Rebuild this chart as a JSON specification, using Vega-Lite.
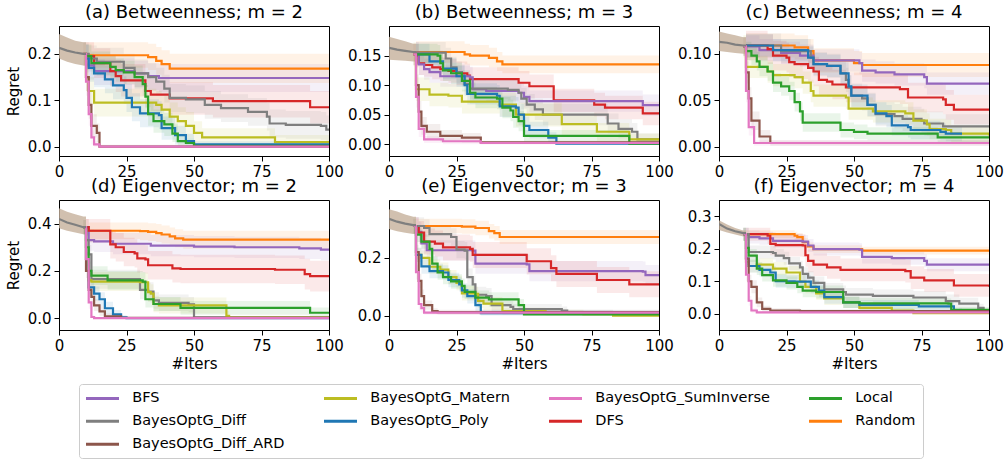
{
"$schema":"https://vega.github.io/schema/vega-lite/v6.json",
"padding":{"left":5,"top":3,"right":0,"bottom":4},
"config":{"font":"DejaVu Sans","view":{"stroke":"black","strokeWidth":1},
"title":{"fontSize":18,"fontWeight":"normal","color":"black","offset":4,"font":"DejaVu Sans"},
"axis":{"labelFont":"DejaVu Sans","labelFontSize":15,"labelColor":"black","titleFont":"DejaVu Sans","titleFontSize":15,"titleFontWeight":"normal","titleColor":"black","domainColor":"black","tickColor":"black","tickSize":5,"grid":false,"labelPadding":3,"labelOverlap":false},
"axisX":{"labelFlush":false,"titlePadding":3},
"axisY":{"titlePadding":6}},
"datasets":{
"a":[
{"s":"init","x":0,"v":0.213,"l":0.19,"h":0.243},{"s":"init","x":3,"v":0.207,"l":0.183,"h":0.235},{"s":"init","x":6,"v":0.203,"l":0.178,"h":0.228},{"s":"init","x":9,"v":0.2,"l":0.175,"h":0.225},{"s":"init","x":10,"v":0.2,"l":0.175,"h":0.225},
{"s":"Random","x":10,"v":0.197,"l":0.17,"h":0.225},{"s":"Random","x":33,"v":0.193,"l":0.165,"h":0.222},{"s":"Random","x":36,"v":0.185,"l":0.155,"h":0.215},{"s":"Random","x":38,"v":0.178,"l":0.148,"h":0.208},{"s":"Random","x":41,"v":0.168,"l":0.137,"h":0.2},{"s":"Random","x":100,"v":0.168,"l":0.137,"h":0.2},
{"s":"BFS","x":10,"v":0.195,"l":0.17,"h":0.22},{"s":"BFS","x":11,"v":0.175,"l":0.145,"h":0.2},{"s":"BFS","x":13,"v":0.163,"l":0.133,"h":0.19},{"s":"BFS","x":28,"v":0.158,"l":0.128,"h":0.185},{"s":"BFS","x":33,"v":0.152,"l":0.122,"h":0.18},{"s":"BFS","x":37,"v":0.148,"l":0.118,"h":0.178},{"s":"BFS","x":100,"v":0.147,"l":0.117,"h":0.177},
{"s":"DFS","x":10,"v":0.195,"l":0.165,"h":0.225},{"s":"DFS","x":13,"v":0.18,"l":0.148,"h":0.212},{"s":"DFS","x":19,"v":0.163,"l":0.13,"h":0.198},{"s":"DFS","x":21,"v":0.152,"l":0.118,"h":0.187},{"s":"DFS","x":23,"v":0.143,"l":0.108,"h":0.178},{"s":"DFS","x":32,"v":0.12,"l":0.085,"h":0.155},{"s":"DFS","x":34,"v":0.112,"l":0.077,"h":0.147},{"s":"DFS","x":41,"v":0.104,"l":0.069,"h":0.139},{"s":"DFS","x":57,"v":0.098,"l":0.063,"h":0.133},{"s":"DFS","x":93,"v":0.085,"l":0.05,"h":0.12},{"s":"DFS","x":100,"v":0.085,"l":0.05,"h":0.12},
{"s":"BayesOptG_Diff","x":10,"v":0.2,"l":0.175,"h":0.225},{"s":"BayesOptG_Diff","x":11,"v":0.19,"l":0.162,"h":0.218},{"s":"BayesOptG_Diff","x":14,"v":0.183,"l":0.153,"h":0.213},{"s":"BayesOptG_Diff","x":24,"v":0.17,"l":0.14,"h":0.2},{"s":"BayesOptG_Diff","x":28,"v":0.158,"l":0.128,"h":0.188},{"s":"BayesOptG_Diff","x":33,"v":0.15,"l":0.12,"h":0.18},{"s":"BayesOptG_Diff","x":36,"v":0.14,"l":0.11,"h":0.17},{"s":"BayesOptG_Diff","x":39,"v":0.125,"l":0.095,"h":0.155},{"s":"BayesOptG_Diff","x":41,"v":0.105,"l":0.075,"h":0.135},{"s":"BayesOptG_Diff","x":47,"v":0.102,"l":0.072,"h":0.132},{"s":"BayesOptG_Diff","x":54,"v":0.09,"l":0.06,"h":0.12},{"s":"BayesOptG_Diff","x":60,"v":0.083,"l":0.053,"h":0.113},{"s":"BayesOptG_Diff","x":70,"v":0.075,"l":0.045,"h":0.105},{"s":"BayesOptG_Diff","x":77,"v":0.065,"l":0.035,"h":0.095},{"s":"BayesOptG_Diff","x":78,"v":0.05,"l":0.02,"h":0.08},{"s":"BayesOptG_Diff","x":84,"v":0.047,"l":0.017,"h":0.077},{"s":"BayesOptG_Diff","x":97,"v":0.045,"l":0.015,"h":0.075},{"s":"BayesOptG_Diff","x":99,"v":0.037,"l":0.01,"h":0.067},{"s":"BayesOptG_Diff","x":100,"v":0.037,"l":0.01,"h":0.067},
{"s":"BayesOptG_Matern","x":9,"v":0.2,"l":0.175,"h":0.225},{"s":"BayesOptG_Matern","x":10,"v":0.15,"l":0.12,"h":0.18},{"s":"BayesOptG_Matern","x":11,"v":0.12,"l":0.09,"h":0.15},{"s":"BayesOptG_Matern","x":13,"v":0.095,"l":0.065,"h":0.125},{"s":"BayesOptG_Matern","x":36,"v":0.09,"l":0.06,"h":0.12},{"s":"BayesOptG_Matern","x":38,"v":0.08,"l":0.05,"h":0.11},{"s":"BayesOptG_Matern","x":41,"v":0.065,"l":0.035,"h":0.095},{"s":"BayesOptG_Matern","x":44,"v":0.055,"l":0.025,"h":0.085},{"s":"BayesOptG_Matern","x":47,"v":0.045,"l":0.018,"h":0.075},{"s":"BayesOptG_Matern","x":50,"v":0.03,"l":0.008,"h":0.055},{"s":"BayesOptG_Matern","x":53,"v":0.02,"l":0.003,"h":0.04},{"s":"BayesOptG_Matern","x":80,"v":0.01,"l":0,"h":0.025},{"s":"BayesOptG_Matern","x":100,"v":0.01,"l":0,"h":0.025},
{"s":"BayesOptG_Poly","x":10,"v":0.19,"l":0.16,"h":0.22},{"s":"BayesOptG_Poly","x":11,"v":0.17,"l":0.14,"h":0.2},{"s":"BayesOptG_Poly","x":13,"v":0.158,"l":0.128,"h":0.188},{"s":"BayesOptG_Poly","x":17,"v":0.145,"l":0.115,"h":0.175},{"s":"BayesOptG_Poly","x":20,"v":0.132,"l":0.102,"h":0.162},{"s":"BayesOptG_Poly","x":24,"v":0.122,"l":0.092,"h":0.152},{"s":"BayesOptG_Poly","x":25,"v":0.105,"l":0.075,"h":0.135},{"s":"BayesOptG_Poly","x":27,"v":0.085,"l":0.055,"h":0.115},{"s":"BayesOptG_Poly","x":30,"v":0.072,"l":0.042,"h":0.102},{"s":"BayesOptG_Poly","x":37,"v":0.068,"l":0.038,"h":0.098},{"s":"BayesOptG_Poly","x":38,"v":0.04,"l":0.015,"h":0.065},{"s":"BayesOptG_Poly","x":43,"v":0.025,"l":0.005,"h":0.045},{"s":"BayesOptG_Poly","x":47,"v":0.012,"l":0,"h":0.028},{"s":"BayesOptG_Poly","x":50,"v":0.005,"l":0,"h":0.012},{"s":"BayesOptG_Poly","x":100,"v":0.004,"l":0,"h":0.01},
{"s":"Local","x":10,"v":0.195,"l":0.17,"h":0.22},{"s":"Local","x":12,"v":0.18,"l":0.155,"h":0.205},{"s":"Local","x":19,"v":0.172,"l":0.147,"h":0.197},{"s":"Local","x":21,"v":0.165,"l":0.14,"h":0.19},{"s":"Local","x":24,"v":0.16,"l":0.135,"h":0.185},{"s":"Local","x":28,"v":0.15,"l":0.125,"h":0.175},{"s":"Local","x":31,"v":0.135,"l":0.11,"h":0.16},{"s":"Local","x":32,"v":0.108,"l":0.083,"h":0.133},{"s":"Local","x":33,"v":0.07,"l":0.045,"h":0.095},{"s":"Local","x":35,"v":0.055,"l":0.03,"h":0.08},{"s":"Local","x":39,"v":0.048,"l":0.023,"h":0.073},{"s":"Local","x":42,"v":0.028,"l":0.01,"h":0.05},{"s":"Local","x":44,"v":0.012,"l":0,"h":0.025},{"s":"Local","x":47,"v":0.008,"l":0,"h":0.018},{"s":"Local","x":50,"v":0.002,"l":0,"h":0.006},{"s":"Local","x":100,"v":0.002,"l":0,"h":0.006},
{"s":"BayesOptG_Diff_ARD","x":9,"v":0.2,"l":0.175,"h":0.225},{"s":"BayesOptG_Diff_ARD","x":10,"v":0.15,"l":0.12,"h":0.18},{"s":"BayesOptG_Diff_ARD","x":11,"v":0.09,"l":0.06,"h":0.12},{"s":"BayesOptG_Diff_ARD","x":12,"v":0.045,"l":0.02,"h":0.07},{"s":"BayesOptG_Diff_ARD","x":14,"v":0.03,"l":0.01,"h":0.05},{"s":"BayesOptG_Diff_ARD","x":15,"v":0,"l":0,"h":0.004},{"s":"BayesOptG_Diff_ARD","x":100,"v":0,"l":0,"h":0.002},
{"s":"BayesOptG_SumInverse","x":9,"v":0.2,"l":0.175,"h":0.225},{"s":"BayesOptG_SumInverse","x":10,"v":0.14,"l":0.11,"h":0.17},{"s":"BayesOptG_SumInverse","x":11,"v":0.07,"l":0.045,"h":0.095},{"s":"BayesOptG_SumInverse","x":12,"v":0.02,"l":0.005,"h":0.035},{"s":"BayesOptG_SumInverse","x":13,"v":0.005,"l":0,"h":0.012},{"s":"BayesOptG_SumInverse","x":15,"v":0,"l":0,"h":0.003},{"s":"BayesOptG_SumInverse","x":100,"v":0,"l":0,"h":0.002}
],
"b":[
{"s":"init","x":0,"v":0.163,"l":0.143,"h":0.182},{"s":"init","x":3,"v":0.16,"l":0.142,"h":0.178},{"s":"init","x":6,"v":0.158,"l":0.141,"h":0.174},{"s":"init","x":9,"v":0.156,"l":0.14,"h":0.17},{"s":"init","x":10,"v":0.156,"l":0.14,"h":0.17},
{"s":"Random","x":10,"v":0.156,"l":0.138,"h":0.174},{"s":"Random","x":28,"v":0.152,"l":0.135,"h":0.17},{"s":"Random","x":30,"v":0.15,"l":0.133,"h":0.168},{"s":"Random","x":37,"v":0.146,"l":0.13,"h":0.163},{"s":"Random","x":40,"v":0.14,"l":0.124,"h":0.156},{"s":"Random","x":42,"v":0.135,"l":0.12,"h":0.15},{"s":"Random","x":100,"v":0.135,"l":0.12,"h":0.15},
{"s":"DFS","x":10,"v":0.15,"l":0.13,"h":0.17},{"s":"DFS","x":11,"v":0.137,"l":0.117,"h":0.157},{"s":"DFS","x":13,"v":0.134,"l":0.114,"h":0.154},{"s":"DFS","x":16,"v":0.13,"l":0.11,"h":0.15},{"s":"DFS","x":19,"v":0.127,"l":0.107,"h":0.147},{"s":"DFS","x":22,"v":0.124,"l":0.104,"h":0.144},{"s":"DFS","x":25,"v":0.12,"l":0.1,"h":0.14},{"s":"DFS","x":29,"v":0.116,"l":0.096,"h":0.136},{"s":"DFS","x":30,"v":0.11,"l":0.09,"h":0.13},{"s":"DFS","x":46,"v":0.11,"l":0.09,"h":0.13},{"s":"DFS","x":48,"v":0.104,"l":0.084,"h":0.124},{"s":"DFS","x":52,"v":0.098,"l":0.078,"h":0.118},{"s":"DFS","x":61,"v":0.074,"l":0.054,"h":0.094},{"s":"DFS","x":76,"v":0.067,"l":0.047,"h":0.087},{"s":"DFS","x":80,"v":0.062,"l":0.042,"h":0.082},{"s":"DFS","x":94,"v":0.052,"l":0.032,"h":0.072},{"s":"DFS","x":100,"v":0.052,"l":0.032,"h":0.072},
{"s":"BFS","x":10,"v":0.155,"l":0.137,"h":0.173},{"s":"BFS","x":11,"v":0.135,"l":0.117,"h":0.153},{"s":"BFS","x":13,"v":0.127,"l":0.109,"h":0.145},{"s":"BFS","x":15,"v":0.122,"l":0.104,"h":0.14},{"s":"BFS","x":19,"v":0.115,"l":0.097,"h":0.133},{"s":"BFS","x":30,"v":0.113,"l":0.095,"h":0.131},{"s":"BFS","x":31,"v":0.093,"l":0.075,"h":0.111},{"s":"BFS","x":36,"v":0.09,"l":0.072,"h":0.108},{"s":"BFS","x":48,"v":0.087,"l":0.069,"h":0.105},{"s":"BFS","x":50,"v":0.08,"l":0.062,"h":0.098},{"s":"BFS","x":52,"v":0.073,"l":0.055,"h":0.091},{"s":"BFS","x":94,"v":0.066,"l":0.048,"h":0.084},{"s":"BFS","x":100,"v":0.066,"l":0.048,"h":0.084},
{"s":"BayesOptG_Diff","x":10,"v":0.155,"l":0.137,"h":0.173},{"s":"BayesOptG_Diff","x":21,"v":0.145,"l":0.127,"h":0.163},{"s":"BayesOptG_Diff","x":23,"v":0.13,"l":0.112,"h":0.148},{"s":"BayesOptG_Diff","x":25,"v":0.122,"l":0.104,"h":0.14},{"s":"BayesOptG_Diff","x":27,"v":0.117,"l":0.099,"h":0.135},{"s":"BayesOptG_Diff","x":28,"v":0.102,"l":0.084,"h":0.12},{"s":"BayesOptG_Diff","x":30,"v":0.094,"l":0.076,"h":0.112},{"s":"BayesOptG_Diff","x":44,"v":0.092,"l":0.074,"h":0.11},{"s":"BayesOptG_Diff","x":48,"v":0.087,"l":0.069,"h":0.105},{"s":"BayesOptG_Diff","x":49,"v":0.077,"l":0.059,"h":0.095},{"s":"BayesOptG_Diff","x":51,"v":0.067,"l":0.049,"h":0.085},{"s":"BayesOptG_Diff","x":54,"v":0.059,"l":0.041,"h":0.077},{"s":"BayesOptG_Diff","x":57,"v":0.05,"l":0.032,"h":0.068},{"s":"BayesOptG_Diff","x":81,"v":0.035,"l":0.018,"h":0.052},{"s":"BayesOptG_Diff","x":85,"v":0.026,"l":0.01,"h":0.042},{"s":"BayesOptG_Diff","x":90,"v":0.021,"l":0.006,"h":0.036},{"s":"BayesOptG_Diff","x":92,"v":0.008,"l":0,"h":0.018},{"s":"BayesOptG_Diff","x":100,"v":0.008,"l":0,"h":0.018},
{"s":"BayesOptG_Matern","x":9,"v":0.152,"l":0.132,"h":0.172},{"s":"BayesOptG_Matern","x":10,"v":0.093,"l":0.073,"h":0.113},{"s":"BayesOptG_Matern","x":15,"v":0.084,"l":0.064,"h":0.104},{"s":"BayesOptG_Matern","x":22,"v":0.082,"l":0.062,"h":0.102},{"s":"BayesOptG_Matern","x":27,"v":0.072,"l":0.052,"h":0.092},{"s":"BayesOptG_Matern","x":41,"v":0.067,"l":0.047,"h":0.087},{"s":"BayesOptG_Matern","x":47,"v":0.05,"l":0.03,"h":0.07},{"s":"BayesOptG_Matern","x":64,"v":0.034,"l":0.016,"h":0.052},{"s":"BayesOptG_Matern","x":77,"v":0.021,"l":0.006,"h":0.036},{"s":"BayesOptG_Matern","x":89,"v":0.008,"l":0,"h":0.018},{"s":"BayesOptG_Matern","x":100,"v":0.008,"l":0,"h":0.018},
{"s":"BayesOptG_Poly","x":10,"v":0.152,"l":0.134,"h":0.17},{"s":"BayesOptG_Poly","x":15,"v":0.14,"l":0.122,"h":0.158},{"s":"BayesOptG_Poly","x":20,"v":0.128,"l":0.11,"h":0.146},{"s":"BayesOptG_Poly","x":25,"v":0.115,"l":0.097,"h":0.133},{"s":"BayesOptG_Poly","x":28,"v":0.1,"l":0.082,"h":0.118},{"s":"BayesOptG_Poly","x":29,"v":0.085,"l":0.067,"h":0.103},{"s":"BayesOptG_Poly","x":40,"v":0.082,"l":0.064,"h":0.1},{"s":"BayesOptG_Poly","x":41,"v":0.064,"l":0.046,"h":0.082},{"s":"BayesOptG_Poly","x":47,"v":0.062,"l":0.044,"h":0.08},{"s":"BayesOptG_Poly","x":48,"v":0.05,"l":0.032,"h":0.068},{"s":"BayesOptG_Poly","x":50,"v":0.031,"l":0.015,"h":0.047},{"s":"BayesOptG_Poly","x":52,"v":0.024,"l":0.01,"h":0.038},{"s":"BayesOptG_Poly","x":59,"v":0.011,"l":0.002,"h":0.02},{"s":"BayesOptG_Poly","x":62,"v":0.001,"l":0,"h":0.004},{"s":"BayesOptG_Poly","x":100,"v":0.001,"l":0,"h":0.004},
{"s":"Local","x":10,"v":0.152,"l":0.134,"h":0.17},{"s":"Local","x":18,"v":0.15,"l":0.132,"h":0.168},{"s":"Local","x":19,"v":0.137,"l":0.119,"h":0.155},{"s":"Local","x":20,"v":0.125,"l":0.107,"h":0.143},{"s":"Local","x":23,"v":0.12,"l":0.102,"h":0.138},{"s":"Local","x":27,"v":0.107,"l":0.089,"h":0.125},{"s":"Local","x":30,"v":0.087,"l":0.069,"h":0.105},{"s":"Local","x":32,"v":0.079,"l":0.061,"h":0.097},{"s":"Local","x":40,"v":0.077,"l":0.059,"h":0.095},{"s":"Local","x":42,"v":0.062,"l":0.044,"h":0.08},{"s":"Local","x":45,"v":0.057,"l":0.039,"h":0.075},{"s":"Local","x":46,"v":0.046,"l":0.028,"h":0.064},{"s":"Local","x":48,"v":0.039,"l":0.022,"h":0.056},{"s":"Local","x":50,"v":0.014,"l":0.004,"h":0.024},{"s":"Local","x":88,"v":0.014,"l":0.004,"h":0.024},{"s":"Local","x":89,"v":0.001,"l":0,"h":0.004},{"s":"Local","x":100,"v":0.001,"l":0,"h":0.004},
{"s":"BayesOptG_Diff_ARD","x":9,"v":0.152,"l":0.134,"h":0.17},{"s":"BayesOptG_Diff_ARD","x":10,"v":0.1,"l":0.082,"h":0.118},{"s":"BayesOptG_Diff_ARD","x":11,"v":0.055,"l":0.037,"h":0.073},{"s":"BayesOptG_Diff_ARD","x":12,"v":0.031,"l":0.016,"h":0.046},{"s":"BayesOptG_Diff_ARD","x":14,"v":0.021,"l":0.008,"h":0.034},{"s":"BayesOptG_Diff_ARD","x":19,"v":0.014,"l":0.004,"h":0.024},{"s":"BayesOptG_Diff_ARD","x":27,"v":0.011,"l":0.003,"h":0.019},{"s":"BayesOptG_Diff_ARD","x":34,"v":0.003,"l":0,"h":0.006},{"s":"BayesOptG_Diff_ARD","x":100,"v":0.001,"l":0,"h":0.003},
{"s":"BayesOptG_SumInverse","x":9,"v":0.152,"l":0.134,"h":0.17},{"s":"BayesOptG_SumInverse","x":10,"v":0.08,"l":0.062,"h":0.098},{"s":"BayesOptG_SumInverse","x":11,"v":0.026,"l":0.012,"h":0.04},{"s":"BayesOptG_SumInverse","x":13,"v":0.008,"l":0.002,"h":0.014},{"s":"BayesOptG_SumInverse","x":20,"v":0.005,"l":0,"h":0.01},{"s":"BayesOptG_SumInverse","x":34,"v":0.002,"l":0,"h":0.005},{"s":"BayesOptG_SumInverse","x":100,"v":0.001,"l":0,"h":0.003}
],
"c":[
{"s":"init","x":0,"v":0.113,"l":0.103,"h":0.124},{"s":"init","x":3,"v":0.112,"l":0.102,"h":0.122},{"s":"init","x":6,"v":0.11,"l":0.101,"h":0.12},{"s":"init","x":9,"v":0.109,"l":0.1,"h":0.118},{"s":"init","x":10,"v":0.109,"l":0.1,"h":0.118},
{"s":"Random","x":10,"v":0.109,"l":0.096,"h":0.122},{"s":"Random","x":28,"v":0.107,"l":0.094,"h":0.12},{"s":"Random","x":33,"v":0.103,"l":0.09,"h":0.116},{"s":"Random","x":35,"v":0.093,"l":0.08,"h":0.106},{"s":"Random","x":50,"v":0.09,"l":0.077,"h":0.103},{"s":"Random","x":53,"v":0.088,"l":0.075,"h":0.101},{"s":"Random","x":100,"v":0.088,"l":0.075,"h":0.101},
{"s":"BFS","x":10,"v":0.108,"l":0.096,"h":0.12},{"s":"BFS","x":15,"v":0.104,"l":0.092,"h":0.116},{"s":"BFS","x":23,"v":0.101,"l":0.089,"h":0.113},{"s":"BFS","x":30,"v":0.098,"l":0.086,"h":0.11},{"s":"BFS","x":35,"v":0.093,"l":0.081,"h":0.105},{"s":"BFS","x":52,"v":0.09,"l":0.078,"h":0.102},{"s":"BFS","x":53,"v":0.082,"l":0.07,"h":0.094},{"s":"BFS","x":58,"v":0.08,"l":0.068,"h":0.092},{"s":"BFS","x":65,"v":0.078,"l":0.066,"h":0.09},{"s":"BFS","x":76,"v":0.075,"l":0.063,"h":0.087},{"s":"BFS","x":77,"v":0.068,"l":0.056,"h":0.08},{"s":"BFS","x":100,"v":0.067,"l":0.055,"h":0.079},
{"s":"DFS","x":10,"v":0.109,"l":0.093,"h":0.125},{"s":"DFS","x":18,"v":0.105,"l":0.089,"h":0.121},{"s":"DFS","x":20,"v":0.098,"l":0.082,"h":0.114},{"s":"DFS","x":25,"v":0.096,"l":0.08,"h":0.112},{"s":"DFS","x":26,"v":0.091,"l":0.075,"h":0.107},{"s":"DFS","x":28,"v":0.089,"l":0.073,"h":0.105},{"s":"DFS","x":33,"v":0.085,"l":0.069,"h":0.101},{"s":"DFS","x":35,"v":0.081,"l":0.065,"h":0.097},{"s":"DFS","x":37,"v":0.072,"l":0.056,"h":0.088},{"s":"DFS","x":40,"v":0.07,"l":0.054,"h":0.086},{"s":"DFS","x":42,"v":0.067,"l":0.051,"h":0.083},{"s":"DFS","x":47,"v":0.064,"l":0.048,"h":0.08},{"s":"DFS","x":67,"v":0.062,"l":0.046,"h":0.078},{"s":"DFS","x":70,"v":0.053,"l":0.037,"h":0.069},{"s":"DFS","x":83,"v":0.051,"l":0.035,"h":0.067},{"s":"DFS","x":84,"v":0.045,"l":0.029,"h":0.061},{"s":"DFS","x":87,"v":0.04,"l":0.024,"h":0.056},{"s":"DFS","x":100,"v":0.04,"l":0.024,"h":0.056},
{"s":"BayesOptG_Diff","x":10,"v":0.109,"l":0.096,"h":0.122},{"s":"BayesOptG_Diff","x":23,"v":0.103,"l":0.09,"h":0.116},{"s":"BayesOptG_Diff","x":34,"v":0.096,"l":0.083,"h":0.109},{"s":"BayesOptG_Diff","x":35,"v":0.089,"l":0.076,"h":0.102},{"s":"BayesOptG_Diff","x":40,"v":0.087,"l":0.074,"h":0.1},{"s":"BayesOptG_Diff","x":45,"v":0.079,"l":0.066,"h":0.092},{"s":"BayesOptG_Diff","x":47,"v":0.072,"l":0.059,"h":0.085},{"s":"BayesOptG_Diff","x":48,"v":0.064,"l":0.051,"h":0.077},{"s":"BayesOptG_Diff","x":49,"v":0.055,"l":0.042,"h":0.068},{"s":"BayesOptG_Diff","x":53,"v":0.052,"l":0.039,"h":0.065},{"s":"BayesOptG_Diff","x":55,"v":0.045,"l":0.032,"h":0.058},{"s":"BayesOptG_Diff","x":58,"v":0.035,"l":0.022,"h":0.048},{"s":"BayesOptG_Diff","x":65,"v":0.033,"l":0.02,"h":0.046},{"s":"BayesOptG_Diff","x":68,"v":0.03,"l":0.017,"h":0.043},{"s":"BayesOptG_Diff","x":75,"v":0.028,"l":0.015,"h":0.041},{"s":"BayesOptG_Diff","x":76,"v":0.025,"l":0.012,"h":0.038},{"s":"BayesOptG_Diff","x":83,"v":0.022,"l":0.009,"h":0.035},{"s":"BayesOptG_Diff","x":100,"v":0.022,"l":0.009,"h":0.035},
{"s":"BayesOptG_Matern","x":9,"v":0.108,"l":0.096,"h":0.12},{"s":"BayesOptG_Matern","x":10,"v":0.086,"l":0.074,"h":0.098},{"s":"BayesOptG_Matern","x":18,"v":0.081,"l":0.069,"h":0.093},{"s":"BayesOptG_Matern","x":20,"v":0.077,"l":0.065,"h":0.089},{"s":"BayesOptG_Matern","x":28,"v":0.075,"l":0.063,"h":0.087},{"s":"BayesOptG_Matern","x":31,"v":0.069,"l":0.057,"h":0.081},{"s":"BayesOptG_Matern","x":34,"v":0.06,"l":0.048,"h":0.072},{"s":"BayesOptG_Matern","x":35,"v":0.055,"l":0.043,"h":0.067},{"s":"BayesOptG_Matern","x":47,"v":0.053,"l":0.041,"h":0.065},{"s":"BayesOptG_Matern","x":48,"v":0.041,"l":0.029,"h":0.053},{"s":"BayesOptG_Matern","x":57,"v":0.038,"l":0.026,"h":0.05},{"s":"BayesOptG_Matern","x":69,"v":0.036,"l":0.024,"h":0.048},{"s":"BayesOptG_Matern","x":72,"v":0.028,"l":0.016,"h":0.04},{"s":"BayesOptG_Matern","x":77,"v":0.024,"l":0.012,"h":0.036},{"s":"BayesOptG_Matern","x":78,"v":0.019,"l":0.008,"h":0.03},{"s":"BayesOptG_Matern","x":84,"v":0.018,"l":0.007,"h":0.029},{"s":"BayesOptG_Matern","x":86,"v":0.014,"l":0.005,"h":0.023},{"s":"BayesOptG_Matern","x":100,"v":0.012,"l":0.004,"h":0.02},
{"s":"BayesOptG_Poly","x":10,"v":0.109,"l":0.097,"h":0.121},{"s":"BayesOptG_Poly","x":20,"v":0.104,"l":0.092,"h":0.116},{"s":"BayesOptG_Poly","x":33,"v":0.096,"l":0.084,"h":0.108},{"s":"BayesOptG_Poly","x":35,"v":0.089,"l":0.077,"h":0.101},{"s":"BayesOptG_Poly","x":40,"v":0.087,"l":0.075,"h":0.099},{"s":"BayesOptG_Poly","x":45,"v":0.079,"l":0.067,"h":0.091},{"s":"BayesOptG_Poly","x":48,"v":0.065,"l":0.053,"h":0.077},{"s":"BayesOptG_Poly","x":49,"v":0.055,"l":0.043,"h":0.067},{"s":"BayesOptG_Poly","x":55,"v":0.045,"l":0.033,"h":0.057},{"s":"BayesOptG_Poly","x":58,"v":0.036,"l":0.024,"h":0.048},{"s":"BayesOptG_Poly","x":62,"v":0.033,"l":0.021,"h":0.045},{"s":"BayesOptG_Poly","x":64,"v":0.023,"l":0.012,"h":0.034},{"s":"BayesOptG_Poly","x":70,"v":0.021,"l":0.01,"h":0.032},{"s":"BayesOptG_Poly","x":71,"v":0.018,"l":0.008,"h":0.028},{"s":"BayesOptG_Poly","x":82,"v":0.016,"l":0.007,"h":0.025},{"s":"BayesOptG_Poly","x":84,"v":0.014,"l":0.006,"h":0.022},{"s":"BayesOptG_Poly","x":90,"v":0.014,"l":0.006,"h":0.022},
{"s":"Local","x":9,"v":0.108,"l":0.098,"h":0.118},{"s":"Local","x":10,"v":0.103,"l":0.093,"h":0.113},{"s":"Local","x":12,"v":0.098,"l":0.088,"h":0.108},{"s":"Local","x":14,"v":0.092,"l":0.082,"h":0.102},{"s":"Local","x":15,"v":0.086,"l":0.076,"h":0.096},{"s":"Local","x":18,"v":0.081,"l":0.071,"h":0.091},{"s":"Local","x":20,"v":0.069,"l":0.059,"h":0.079},{"s":"Local","x":23,"v":0.065,"l":0.055,"h":0.075},{"s":"Local","x":26,"v":0.06,"l":0.05,"h":0.07},{"s":"Local","x":28,"v":0.048,"l":0.038,"h":0.058},{"s":"Local","x":30,"v":0.038,"l":0.028,"h":0.048},{"s":"Local","x":31,"v":0.026,"l":0.016,"h":0.036},{"s":"Local","x":42,"v":0.026,"l":0.016,"h":0.036},{"s":"Local","x":45,"v":0.018,"l":0.01,"h":0.026},{"s":"Local","x":50,"v":0.016,"l":0.008,"h":0.024},{"s":"Local","x":55,"v":0.014,"l":0.007,"h":0.021},{"s":"Local","x":81,"v":0.01,"l":0.005,"h":0.015},{"s":"Local","x":100,"v":0.009,"l":0.004,"h":0.014},
{"s":"BayesOptG_Diff_ARD","x":9,"v":0.108,"l":0.098,"h":0.118},{"s":"BayesOptG_Diff_ARD","x":10,"v":0.08,"l":0.068,"h":0.092},{"s":"BayesOptG_Diff_ARD","x":11,"v":0.052,"l":0.04,"h":0.064},{"s":"BayesOptG_Diff_ARD","x":12,"v":0.028,"l":0.018,"h":0.038},{"s":"BayesOptG_Diff_ARD","x":15,"v":0.011,"l":0.004,"h":0.018},{"s":"BayesOptG_Diff_ARD","x":19,"v":0.004,"l":0.001,"h":0.007},{"s":"BayesOptG_Diff_ARD","x":100,"v":0.003,"l":0.001,"h":0.005},
{"s":"BayesOptG_SumInverse","x":9,"v":0.108,"l":0.098,"h":0.118},{"s":"BayesOptG_SumInverse","x":10,"v":0.06,"l":0.048,"h":0.072},{"s":"BayesOptG_SumInverse","x":11,"v":0.021,"l":0.012,"h":0.03},{"s":"BayesOptG_SumInverse","x":13,"v":0.004,"l":0.001,"h":0.007},{"s":"BayesOptG_SumInverse","x":100,"v":0.003,"l":0.001,"h":0.005}
],
"d":[
{"s":"init","x":0,"v":0.42,"l":0.38,"h":0.465},{"s":"init","x":3,"v":0.405,"l":0.37,"h":0.45},{"s":"init","x":6,"v":0.395,"l":0.362,"h":0.44},{"s":"init","x":9,"v":0.385,"l":0.355,"h":0.43},{"s":"init","x":10,"v":0.385,"l":0.355,"h":0.43},
{"s":"Random","x":10,"v":0.385,"l":0.35,"h":0.42},{"s":"Random","x":11,"v":0.37,"l":0.335,"h":0.405},{"s":"Random","x":30,"v":0.368,"l":0.33,"h":0.405},{"s":"Random","x":33,"v":0.365,"l":0.327,"h":0.402},{"s":"Random","x":36,"v":0.36,"l":0.322,"h":0.398},{"s":"Random","x":38,"v":0.354,"l":0.316,"h":0.392},{"s":"Random","x":41,"v":0.346,"l":0.308,"h":0.384},{"s":"Random","x":43,"v":0.338,"l":0.3,"h":0.376},{"s":"Random","x":46,"v":0.332,"l":0.294,"h":0.37},{"s":"Random","x":100,"v":0.33,"l":0.292,"h":0.368},
{"s":"BFS","x":10,"v":0.385,"l":0.35,"h":0.42},{"s":"BFS","x":11,"v":0.33,"l":0.285,"h":0.375},{"s":"BFS","x":13,"v":0.325,"l":0.28,"h":0.37},{"s":"BFS","x":20,"v":0.315,"l":0.27,"h":0.36},{"s":"BFS","x":34,"v":0.307,"l":0.262,"h":0.352},{"s":"BFS","x":50,"v":0.303,"l":0.258,"h":0.348},{"s":"BFS","x":65,"v":0.3,"l":0.255,"h":0.345},{"s":"BFS","x":89,"v":0.295,"l":0.25,"h":0.34},{"s":"BFS","x":97,"v":0.29,"l":0.245,"h":0.335},{"s":"BFS","x":100,"v":0.29,"l":0.245,"h":0.335},
{"s":"DFS","x":10,"v":0.385,"l":0.35,"h":0.42},{"s":"DFS","x":11,"v":0.37,"l":0.32,"h":0.42},{"s":"DFS","x":19,"v":0.312,"l":0.252,"h":0.372},{"s":"DFS","x":21,"v":0.3,"l":0.24,"h":0.36},{"s":"DFS","x":24,"v":0.28,"l":0.22,"h":0.34},{"s":"DFS","x":28,"v":0.274,"l":0.214,"h":0.334},{"s":"DFS","x":29,"v":0.253,"l":0.193,"h":0.313},{"s":"DFS","x":32,"v":0.249,"l":0.189,"h":0.309},{"s":"DFS","x":33,"v":0.224,"l":0.164,"h":0.284},{"s":"DFS","x":42,"v":0.211,"l":0.151,"h":0.271},{"s":"DFS","x":45,"v":0.208,"l":0.148,"h":0.268},{"s":"DFS","x":80,"v":0.205,"l":0.145,"h":0.265},{"s":"DFS","x":91,"v":0.186,"l":0.121,"h":0.251},{"s":"DFS","x":93,"v":0.178,"l":0.113,"h":0.243},{"s":"DFS","x":100,"v":0.177,"l":0.112,"h":0.242},
{"s":"BayesOptG_Diff","x":9,"v":0.385,"l":0.355,"h":0.415},{"s":"BayesOptG_Diff","x":10,"v":0.33,"l":0.29,"h":0.37},{"s":"BayesOptG_Diff","x":11,"v":0.27,"l":0.23,"h":0.31},{"s":"BayesOptG_Diff","x":12,"v":0.165,"l":0.125,"h":0.205},{"s":"BayesOptG_Diff","x":28,"v":0.165,"l":0.125,"h":0.205},{"s":"BayesOptG_Diff","x":30,"v":0.12,"l":0.08,"h":0.16},{"s":"BayesOptG_Diff","x":33,"v":0.112,"l":0.072,"h":0.152},{"s":"BayesOptG_Diff","x":35,"v":0.075,"l":0.04,"h":0.11},{"s":"BayesOptG_Diff","x":37,"v":0.065,"l":0.03,"h":0.1},{"s":"BayesOptG_Diff","x":48,"v":0.058,"l":0.025,"h":0.09},{"s":"BayesOptG_Diff","x":50,"v":0.003,"l":0,"h":0.008},{"s":"BayesOptG_Diff","x":100,"v":0.003,"l":0,"h":0.008},
{"s":"BayesOptG_Matern","x":9,"v":0.385,"l":0.355,"h":0.415},{"s":"BayesOptG_Matern","x":10,"v":0.25,"l":0.21,"h":0.29},{"s":"BayesOptG_Matern","x":11,"v":0.16,"l":0.12,"h":0.2},{"s":"BayesOptG_Matern","x":12,"v":0.155,"l":0.115,"h":0.195},{"s":"BayesOptG_Matern","x":30,"v":0.152,"l":0.112,"h":0.192},{"s":"BayesOptG_Matern","x":33,"v":0.11,"l":0.07,"h":0.15},{"s":"BayesOptG_Matern","x":34,"v":0.104,"l":0.064,"h":0.144},{"s":"BayesOptG_Matern","x":35,"v":0.06,"l":0.025,"h":0.095},{"s":"BayesOptG_Matern","x":37,"v":0.054,"l":0.02,"h":0.088},{"s":"BayesOptG_Matern","x":62,"v":0.01,"l":0,"h":0.03},{"s":"BayesOptG_Matern","x":63,"v":0.002,"l":0,"h":0.006},{"s":"BayesOptG_Matern","x":100,"v":0.002,"l":0,"h":0.006},
{"s":"BayesOptG_Poly","x":9,"v":0.385,"l":0.355,"h":0.415},{"s":"BayesOptG_Poly","x":10,"v":0.25,"l":0.22,"h":0.28},{"s":"BayesOptG_Poly","x":11,"v":0.13,"l":0.1,"h":0.16},{"s":"BayesOptG_Poly","x":13,"v":0.104,"l":0.074,"h":0.134},{"s":"BayesOptG_Poly","x":15,"v":0.08,"l":0.05,"h":0.11},{"s":"BayesOptG_Poly","x":17,"v":0.042,"l":0.015,"h":0.07},{"s":"BayesOptG_Poly","x":20,"v":0.016,"l":0,"h":0.035},{"s":"BayesOptG_Poly","x":23,"v":0.004,"l":0,"h":0.012},{"s":"BayesOptG_Poly","x":25,"v":0,"l":0,"h":0.004},{"s":"BayesOptG_Poly","x":100,"v":0,"l":0,"h":0.003},
{"s":"Local","x":9,"v":0.385,"l":0.355,"h":0.415},{"s":"Local","x":10,"v":0.3,"l":0.26,"h":0.34},{"s":"Local","x":11,"v":0.2,"l":0.16,"h":0.24},{"s":"Local","x":12,"v":0.18,"l":0.14,"h":0.22},{"s":"Local","x":18,"v":0.16,"l":0.12,"h":0.2},{"s":"Local","x":31,"v":0.155,"l":0.115,"h":0.195},{"s":"Local","x":32,"v":0.08,"l":0.045,"h":0.115},{"s":"Local","x":35,"v":0.06,"l":0.03,"h":0.09},{"s":"Local","x":45,"v":0.044,"l":0.015,"h":0.073},{"s":"Local","x":93,"v":0.023,"l":0.003,"h":0.045},{"s":"Local","x":100,"v":0.023,"l":0.003,"h":0.045},
{"s":"BayesOptG_Diff_ARD","x":9,"v":0.385,"l":0.355,"h":0.415},{"s":"BayesOptG_Diff_ARD","x":10,"v":0.2,"l":0.17,"h":0.23},{"s":"BayesOptG_Diff_ARD","x":11,"v":0.12,"l":0.09,"h":0.15},{"s":"BayesOptG_Diff_ARD","x":12,"v":0.09,"l":0.06,"h":0.12},{"s":"BayesOptG_Diff_ARD","x":13,"v":0.054,"l":0.03,"h":0.08},{"s":"BayesOptG_Diff_ARD","x":15,"v":0.029,"l":0.01,"h":0.05},{"s":"BayesOptG_Diff_ARD","x":17,"v":0.008,"l":0,"h":0.02},{"s":"BayesOptG_Diff_ARD","x":23,"v":0.001,"l":0,"h":0.004},{"s":"BayesOptG_Diff_ARD","x":100,"v":0,"l":0,"h":0.002},
{"s":"BayesOptG_SumInverse","x":9,"v":0.385,"l":0.355,"h":0.415},{"s":"BayesOptG_SumInverse","x":10,"v":0.25,"l":0.22,"h":0.28},{"s":"BayesOptG_SumInverse","x":11,"v":0.067,"l":0.04,"h":0.095},{"s":"BayesOptG_SumInverse","x":12,"v":0.005,"l":0,"h":0.015},{"s":"BayesOptG_SumInverse","x":13,"v":0,"l":0,"h":0.004},{"s":"BayesOptG_SumInverse","x":100,"v":0,"l":0,"h":0.002}
],
"e":[
{"s":"init","x":0,"v":0.335,"l":0.3,"h":0.368},{"s":"init","x":3,"v":0.325,"l":0.292,"h":0.36},{"s":"init","x":6,"v":0.318,"l":0.287,"h":0.35},{"s":"init","x":9,"v":0.313,"l":0.282,"h":0.342},{"s":"init","x":10,"v":0.313,"l":0.282,"h":0.342},
{"s":"Random","x":10,"v":0.31,"l":0.285,"h":0.335},{"s":"Random","x":27,"v":0.308,"l":0.283,"h":0.333},{"s":"Random","x":32,"v":0.303,"l":0.278,"h":0.328},{"s":"Random","x":37,"v":0.292,"l":0.267,"h":0.317},{"s":"Random","x":39,"v":0.285,"l":0.26,"h":0.31},{"s":"Random","x":41,"v":0.272,"l":0.248,"h":0.296},{"s":"Random","x":100,"v":0.269,"l":0.245,"h":0.293},
{"s":"BFS","x":10,"v":0.31,"l":0.28,"h":0.34},{"s":"BFS","x":11,"v":0.29,"l":0.255,"h":0.325},{"s":"BFS","x":12,"v":0.25,"l":0.215,"h":0.285},{"s":"BFS","x":14,"v":0.226,"l":0.191,"h":0.261},{"s":"BFS","x":31,"v":0.225,"l":0.19,"h":0.26},{"s":"BFS","x":32,"v":0.18,"l":0.145,"h":0.215},{"s":"BFS","x":51,"v":0.177,"l":0.142,"h":0.212},{"s":"BFS","x":52,"v":0.154,"l":0.119,"h":0.189},{"s":"BFS","x":94,"v":0.152,"l":0.117,"h":0.187},{"s":"BFS","x":95,"v":0.14,"l":0.105,"h":0.175},{"s":"BFS","x":100,"v":0.14,"l":0.105,"h":0.175},
{"s":"DFS","x":10,"v":0.31,"l":0.28,"h":0.34},{"s":"DFS","x":11,"v":0.287,"l":0.247,"h":0.327},{"s":"DFS","x":13,"v":0.256,"l":0.211,"h":0.301},{"s":"DFS","x":17,"v":0.249,"l":0.204,"h":0.294},{"s":"DFS","x":20,"v":0.236,"l":0.191,"h":0.281},{"s":"DFS","x":30,"v":0.231,"l":0.186,"h":0.276},{"s":"DFS","x":31,"v":0.21,"l":0.165,"h":0.255},{"s":"DFS","x":51,"v":0.188,"l":0.143,"h":0.233},{"s":"DFS","x":60,"v":0.164,"l":0.119,"h":0.209},{"s":"DFS","x":62,"v":0.144,"l":0.099,"h":0.189},{"s":"DFS","x":77,"v":0.123,"l":0.078,"h":0.168},{"s":"DFS","x":89,"v":0.108,"l":0.063,"h":0.153},{"s":"DFS","x":100,"v":0.105,"l":0.06,"h":0.15},
{"s":"BayesOptG_Diff","x":10,"v":0.31,"l":0.28,"h":0.34},{"s":"BayesOptG_Diff","x":13,"v":0.303,"l":0.273,"h":0.333},{"s":"BayesOptG_Diff","x":15,"v":0.282,"l":0.252,"h":0.312},{"s":"BayesOptG_Diff","x":23,"v":0.272,"l":0.242,"h":0.302},{"s":"BayesOptG_Diff","x":25,"v":0.228,"l":0.198,"h":0.258},{"s":"BayesOptG_Diff","x":28,"v":0.225,"l":0.195,"h":0.255},{"s":"BayesOptG_Diff","x":29,"v":0.133,"l":0.103,"h":0.163},{"s":"BayesOptG_Diff","x":31,"v":0.108,"l":0.078,"h":0.138},{"s":"BayesOptG_Diff","x":32,"v":0.072,"l":0.045,"h":0.1},{"s":"BayesOptG_Diff","x":36,"v":0.067,"l":0.04,"h":0.095},{"s":"BayesOptG_Diff","x":38,"v":0.036,"l":0.015,"h":0.058},{"s":"BayesOptG_Diff","x":45,"v":0.03,"l":0.01,"h":0.05},{"s":"BayesOptG_Diff","x":46,"v":0.022,"l":0.005,"h":0.04},{"s":"BayesOptG_Diff","x":64,"v":0.017,"l":0.003,"h":0.031},{"s":"BayesOptG_Diff","x":66,"v":0.01,"l":0,"h":0.02},{"s":"BayesOptG_Diff","x":83,"v":0.005,"l":0,"h":0.012},{"s":"BayesOptG_Diff","x":100,"v":0.003,"l":0,"h":0.008},
{"s":"BayesOptG_Matern","x":9,"v":0.31,"l":0.285,"h":0.335},{"s":"BayesOptG_Matern","x":10,"v":0.21,"l":0.185,"h":0.235},{"s":"BayesOptG_Matern","x":12,"v":0.2,"l":0.175,"h":0.225},{"s":"BayesOptG_Matern","x":15,"v":0.169,"l":0.144,"h":0.194},{"s":"BayesOptG_Matern","x":19,"v":0.159,"l":0.134,"h":0.184},{"s":"BayesOptG_Matern","x":22,"v":0.133,"l":0.108,"h":0.158},{"s":"BayesOptG_Matern","x":25,"v":0.113,"l":0.088,"h":0.138},{"s":"BayesOptG_Matern","x":27,"v":0.077,"l":0.052,"h":0.102},{"s":"BayesOptG_Matern","x":32,"v":0.075,"l":0.05,"h":0.1},{"s":"BayesOptG_Matern","x":33,"v":0.051,"l":0.026,"h":0.076},{"s":"BayesOptG_Matern","x":35,"v":0.041,"l":0.018,"h":0.064},{"s":"BayesOptG_Matern","x":42,"v":0.015,"l":0.003,"h":0.027},{"s":"BayesOptG_Matern","x":58,"v":0.01,"l":0,"h":0.02},{"s":"BayesOptG_Matern","x":72,"v":0.005,"l":0,"h":0.012},{"s":"BayesOptG_Matern","x":83,"v":0,"l":0,"h":0.004},{"s":"BayesOptG_Matern","x":100,"v":0,"l":0,"h":0.004},
{"s":"BayesOptG_Poly","x":9,"v":0.31,"l":0.285,"h":0.335},{"s":"BayesOptG_Poly","x":10,"v":0.21,"l":0.185,"h":0.235},{"s":"BayesOptG_Poly","x":12,"v":0.17,"l":0.145,"h":0.195},{"s":"BayesOptG_Poly","x":15,"v":0.154,"l":0.129,"h":0.179},{"s":"BayesOptG_Poly","x":20,"v":0.149,"l":0.124,"h":0.174},{"s":"BayesOptG_Poly","x":22,"v":0.123,"l":0.098,"h":0.148},{"s":"BayesOptG_Poly","x":26,"v":0.108,"l":0.083,"h":0.133},{"s":"BayesOptG_Poly","x":27,"v":0.087,"l":0.062,"h":0.112},{"s":"BayesOptG_Poly","x":29,"v":0.067,"l":0.042,"h":0.092},{"s":"BayesOptG_Poly","x":32,"v":0.036,"l":0.015,"h":0.057},{"s":"BayesOptG_Poly","x":34,"v":0.008,"l":0,"h":0.018},{"s":"BayesOptG_Poly","x":100,"v":0.008,"l":0,"h":0.018},
{"s":"Local","x":9,"v":0.31,"l":0.285,"h":0.335},{"s":"Local","x":10,"v":0.28,"l":0.255,"h":0.305},{"s":"Local","x":12,"v":0.256,"l":0.231,"h":0.281},{"s":"Local","x":15,"v":0.231,"l":0.206,"h":0.256},{"s":"Local","x":16,"v":0.18,"l":0.155,"h":0.205},{"s":"Local","x":18,"v":0.149,"l":0.124,"h":0.174},{"s":"Local","x":20,"v":0.133,"l":0.108,"h":0.158},{"s":"Local","x":23,"v":0.118,"l":0.093,"h":0.143},{"s":"Local","x":27,"v":0.103,"l":0.078,"h":0.128},{"s":"Local","x":28,"v":0.082,"l":0.057,"h":0.107},{"s":"Local","x":32,"v":0.062,"l":0.037,"h":0.087},{"s":"Local","x":37,"v":0.056,"l":0.031,"h":0.081},{"s":"Local","x":48,"v":0.036,"l":0.015,"h":0.057},{"s":"Local","x":50,"v":0.004,"l":0,"h":0.012},{"s":"Local","x":100,"v":0.003,"l":0,"h":0.008},
{"s":"BayesOptG_Diff_ARD","x":9,"v":0.31,"l":0.285,"h":0.335},{"s":"BayesOptG_Diff_ARD","x":10,"v":0.22,"l":0.195,"h":0.245},{"s":"BayesOptG_Diff_ARD","x":11,"v":0.12,"l":0.095,"h":0.145},{"s":"BayesOptG_Diff_ARD","x":12,"v":0.067,"l":0.045,"h":0.09},{"s":"BayesOptG_Diff_ARD","x":13,"v":0.036,"l":0.02,"h":0.052},{"s":"BayesOptG_Diff_ARD","x":16,"v":0.015,"l":0.005,"h":0.025},{"s":"BayesOptG_Diff_ARD","x":18,"v":0.012,"l":0.004,"h":0.02},{"s":"BayesOptG_Diff_ARD","x":100,"v":0.01,"l":0.003,"h":0.017},
{"s":"BayesOptG_SumInverse","x":9,"v":0.31,"l":0.285,"h":0.335},{"s":"BayesOptG_SumInverse","x":10,"v":0.15,"l":0.125,"h":0.175},{"s":"BayesOptG_SumInverse","x":11,"v":0.04,"l":0.02,"h":0.06},{"s":"BayesOptG_SumInverse","x":12,"v":0.026,"l":0.01,"h":0.04},{"s":"BayesOptG_SumInverse","x":13,"v":0.01,"l":0.003,"h":0.017},{"s":"BayesOptG_SumInverse","x":100,"v":0.008,"l":0.002,"h":0.014}
],
"f":[
{"s":"init","x":0,"v":0.276,"l":0.258,"h":0.288},{"s":"init","x":3,"v":0.262,"l":0.25,"h":0.275},{"s":"init","x":6,"v":0.254,"l":0.244,"h":0.264},{"s":"init","x":9,"v":0.248,"l":0.238,"h":0.256},{"s":"init","x":10,"v":0.248,"l":0.238,"h":0.256},
{"s":"Random","x":10,"v":0.245,"l":0.233,"h":0.257},{"s":"Random","x":28,"v":0.24,"l":0.228,"h":0.252},{"s":"Random","x":29,"v":0.236,"l":0.224,"h":0.248},{"s":"Random","x":31,"v":0.22,"l":0.208,"h":0.232},{"s":"Random","x":33,"v":0.207,"l":0.195,"h":0.219},{"s":"Random","x":35,"v":0.199,"l":0.187,"h":0.211},{"s":"Random","x":53,"v":0.194,"l":0.182,"h":0.206},{"s":"Random","x":100,"v":0.193,"l":0.181,"h":0.205},
{"s":"BFS","x":10,"v":0.245,"l":0.225,"h":0.265},{"s":"BFS","x":11,"v":0.236,"l":0.216,"h":0.256},{"s":"BFS","x":15,"v":0.232,"l":0.212,"h":0.252},{"s":"BFS","x":20,"v":0.224,"l":0.204,"h":0.244},{"s":"BFS","x":31,"v":0.222,"l":0.202,"h":0.242},{"s":"BFS","x":33,"v":0.21,"l":0.19,"h":0.23},{"s":"BFS","x":35,"v":0.199,"l":0.179,"h":0.219},{"s":"BFS","x":52,"v":0.197,"l":0.177,"h":0.217},{"s":"BFS","x":53,"v":0.175,"l":0.155,"h":0.195},{"s":"BFS","x":64,"v":0.171,"l":0.151,"h":0.191},{"s":"BFS","x":76,"v":0.163,"l":0.143,"h":0.183},{"s":"BFS","x":77,"v":0.151,"l":0.131,"h":0.171},{"s":"BFS","x":100,"v":0.148,"l":0.128,"h":0.168},
{"s":"DFS","x":10,"v":0.245,"l":0.225,"h":0.265},{"s":"DFS","x":18,"v":0.24,"l":0.215,"h":0.265},{"s":"DFS","x":19,"v":0.215,"l":0.18,"h":0.25},{"s":"DFS","x":21,"v":0.211,"l":0.176,"h":0.246},{"s":"DFS","x":31,"v":0.21,"l":0.175,"h":0.245},{"s":"DFS","x":32,"v":0.18,"l":0.145,"h":0.215},{"s":"DFS","x":33,"v":0.163,"l":0.128,"h":0.198},{"s":"DFS","x":35,"v":0.151,"l":0.116,"h":0.186},{"s":"DFS","x":40,"v":0.143,"l":0.108,"h":0.178},{"s":"DFS","x":45,"v":0.135,"l":0.1,"h":0.17},{"s":"DFS","x":69,"v":0.131,"l":0.096,"h":0.166},{"s":"DFS","x":71,"v":0.111,"l":0.076,"h":0.146},{"s":"DFS","x":76,"v":0.103,"l":0.068,"h":0.138},{"s":"DFS","x":87,"v":0.087,"l":0.052,"h":0.122},{"s":"DFS","x":100,"v":0.083,"l":0.048,"h":0.118},
{"s":"BayesOptG_Diff","x":10,"v":0.245,"l":0.225,"h":0.265},{"s":"BayesOptG_Diff","x":11,"v":0.19,"l":0.17,"h":0.21},{"s":"BayesOptG_Diff","x":20,"v":0.187,"l":0.167,"h":0.207},{"s":"BayesOptG_Diff","x":21,"v":0.179,"l":0.159,"h":0.199},{"s":"BayesOptG_Diff","x":24,"v":0.171,"l":0.151,"h":0.191},{"s":"BayesOptG_Diff","x":26,"v":0.155,"l":0.135,"h":0.175},{"s":"BayesOptG_Diff","x":30,"v":0.143,"l":0.123,"h":0.163},{"s":"BayesOptG_Diff","x":31,"v":0.123,"l":0.103,"h":0.143},{"s":"BayesOptG_Diff","x":33,"v":0.111,"l":0.091,"h":0.131},{"s":"BayesOptG_Diff","x":35,"v":0.095,"l":0.075,"h":0.115},{"s":"BayesOptG_Diff","x":39,"v":0.075,"l":0.055,"h":0.095},{"s":"BayesOptG_Diff","x":46,"v":0.067,"l":0.047,"h":0.087},{"s":"BayesOptG_Diff","x":47,"v":0.059,"l":0.039,"h":0.079},{"s":"BayesOptG_Diff","x":57,"v":0.055,"l":0.035,"h":0.075},{"s":"BayesOptG_Diff","x":72,"v":0.05,"l":0.03,"h":0.07},{"s":"BayesOptG_Diff","x":84,"v":0.039,"l":0.019,"h":0.059},{"s":"BayesOptG_Diff","x":89,"v":0.031,"l":0.013,"h":0.049},{"s":"BayesOptG_Diff","x":96,"v":0.018,"l":0.005,"h":0.031},{"s":"BayesOptG_Diff","x":98,"v":0.003,"l":0,"h":0.008},{"s":"BayesOptG_Diff","x":100,"v":0.003,"l":0,"h":0.008},
{"s":"BayesOptG_Matern","x":9,"v":0.245,"l":0.225,"h":0.265},{"s":"BayesOptG_Matern","x":10,"v":0.16,"l":0.14,"h":0.18},{"s":"BayesOptG_Matern","x":11,"v":0.147,"l":0.127,"h":0.167},{"s":"BayesOptG_Matern","x":14,"v":0.151,"l":0.131,"h":0.171},{"s":"BayesOptG_Matern","x":20,"v":0.139,"l":0.119,"h":0.159},{"s":"BayesOptG_Matern","x":25,"v":0.127,"l":0.107,"h":0.147},{"s":"BayesOptG_Matern","x":30,"v":0.099,"l":0.079,"h":0.119},{"s":"BayesOptG_Matern","x":32,"v":0.083,"l":0.063,"h":0.103},{"s":"BayesOptG_Matern","x":36,"v":0.063,"l":0.043,"h":0.083},{"s":"BayesOptG_Matern","x":39,"v":0.047,"l":0.027,"h":0.067},{"s":"BayesOptG_Matern","x":46,"v":0.035,"l":0.018,"h":0.052},{"s":"BayesOptG_Matern","x":52,"v":0.018,"l":0.006,"h":0.03},{"s":"BayesOptG_Matern","x":64,"v":0.01,"l":0.002,"h":0.018},{"s":"BayesOptG_Matern","x":72,"v":0.002,"l":0,"h":0.006},{"s":"BayesOptG_Matern","x":100,"v":0.002,"l":0,"h":0.006},
{"s":"BayesOptG_Poly","x":9,"v":0.245,"l":0.225,"h":0.265},{"s":"BayesOptG_Poly","x":10,"v":0.17,"l":0.15,"h":0.19},{"s":"BayesOptG_Poly","x":11,"v":0.147,"l":0.127,"h":0.167},{"s":"BayesOptG_Poly","x":15,"v":0.135,"l":0.115,"h":0.155},{"s":"BayesOptG_Poly","x":19,"v":0.127,"l":0.107,"h":0.147},{"s":"BayesOptG_Poly","x":21,"v":0.1,"l":0.08,"h":0.12},{"s":"BayesOptG_Poly","x":28,"v":0.099,"l":0.079,"h":0.119},{"s":"BayesOptG_Poly","x":34,"v":0.083,"l":0.063,"h":0.103},{"s":"BayesOptG_Poly","x":37,"v":0.071,"l":0.051,"h":0.091},{"s":"BayesOptG_Poly","x":39,"v":0.051,"l":0.031,"h":0.071},{"s":"BayesOptG_Poly","x":46,"v":0.035,"l":0.018,"h":0.052},{"s":"BayesOptG_Poly","x":52,"v":0.027,"l":0.012,"h":0.042},{"s":"BayesOptG_Poly","x":74,"v":0.023,"l":0.01,"h":0.036},{"s":"BayesOptG_Poly","x":87,"v":0.01,"l":0.003,"h":0.017},{"s":"BayesOptG_Poly","x":90,"v":0.01,"l":0.003,"h":0.017},
{"s":"Local","x":9,"v":0.245,"l":0.225,"h":0.265},{"s":"Local","x":10,"v":0.203,"l":0.183,"h":0.223},{"s":"Local","x":11,"v":0.179,"l":0.159,"h":0.199},{"s":"Local","x":14,"v":0.139,"l":0.119,"h":0.159},{"s":"Local","x":16,"v":0.119,"l":0.099,"h":0.139},{"s":"Local","x":20,"v":0.103,"l":0.083,"h":0.123},{"s":"Local","x":25,"v":0.095,"l":0.075,"h":0.115},{"s":"Local","x":29,"v":0.083,"l":0.063,"h":0.103},{"s":"Local","x":31,"v":0.071,"l":0.051,"h":0.091},{"s":"Local","x":36,"v":0.067,"l":0.047,"h":0.087},{"s":"Local","x":46,"v":0.035,"l":0.018,"h":0.052},{"s":"Local","x":52,"v":0.032,"l":0.015,"h":0.049},{"s":"Local","x":85,"v":0.031,"l":0.015,"h":0.047},{"s":"Local","x":86,"v":0.012,"l":0.003,"h":0.021},{"s":"Local","x":100,"v":0.012,"l":0.003,"h":0.021},
{"s":"BayesOptG_Diff_ARD","x":9,"v":0.245,"l":0.225,"h":0.265},{"s":"BayesOptG_Diff_ARD","x":10,"v":0.17,"l":0.15,"h":0.19},{"s":"BayesOptG_Diff_ARD","x":11,"v":0.1,"l":0.08,"h":0.12},{"s":"BayesOptG_Diff_ARD","x":12,"v":0.083,"l":0.063,"h":0.103},{"s":"BayesOptG_Diff_ARD","x":14,"v":0.035,"l":0.02,"h":0.05},{"s":"BayesOptG_Diff_ARD","x":16,"v":0.015,"l":0.005,"h":0.025},{"s":"BayesOptG_Diff_ARD","x":19,"v":0.01,"l":0.003,"h":0.017},{"s":"BayesOptG_Diff_ARD","x":30,"v":0.008,"l":0.002,"h":0.014},{"s":"BayesOptG_Diff_ARD","x":100,"v":0.008,"l":0.002,"h":0.014},
{"s":"BayesOptG_SumInverse","x":9,"v":0.245,"l":0.225,"h":0.265},{"s":"BayesOptG_SumInverse","x":10,"v":0.12,"l":0.1,"h":0.14},{"s":"BayesOptG_SumInverse","x":11,"v":0.04,"l":0.025,"h":0.055},{"s":"BayesOptG_SumInverse","x":12,"v":0.01,"l":0.003,"h":0.017},{"s":"BayesOptG_SumInverse","x":14,"v":0.004,"l":0,"h":0.008},{"s":"BayesOptG_SumInverse","x":100,"v":0.004,"l":0,"h":0.008}
]},
"vconcat":[
{"hconcat":[
{"data":{"name":"a"},"width":270,"height":130,"title":"(a) Betweenness; m = 2",
"encoding":{"x":{"field":"x","type":"quantitative","scale":{"domain":[0,100]},"axis":{"values":[0,25,50,75,100],"title":null}}},
"layer":[
{"transform":[{"filter":"datum.s!=='init'"}],"mark":{"type":"area","interpolate":"step-after","fillOpacity":0.1,"clip":true},"encoding":{"y":{"field":"l","type":"quantitative","scale":{"domain":[-0.0072,0.254]},"axis":{"values":[0,0.1,0.2],"format":".1f","title":"Regret"}},"y2":{"field":"h"},"color":{"field":"s","type":"nominal","title":null,"scale":{"domain":["BFS","Local","DFS","BayesOptG_Matern","BayesOptG_Diff","Random","BayesOptG_SumInverse","BayesOptG_Poly","BayesOptG_Diff_ARD"],"range":["#9467bd","#2ca02c","#d62728","#bcbd22","#7f7f7f","#ff7f0e","#e377c2","#1f77b4","#8c564b"]},"legend":{"orient":"none","legendX":20,"legendY":358,"columns":4,"symbolType":"M-3,0H3","symbolSize":121,"symbolStrokeWidth":3,"symbolOpacity":1,"symbolFillOpacity":0,"symbolOffset":9.25,"labelOffset":22.5,"labelFontSize":14.5,"labelFont":"DejaVu Sans","labelColor":"black","labelLimit":400,"columnPadding":33,"rowPadding":8,"padding":7,"strokeColor":"#cccccc","cornerRadius":3}}}},
{"transform":[{"filter":"datum.s==='init'"}],"mark":{"type":"area","opacity":0.8,"color":"#c6b09b","clip":true},"encoding":{"y":{"field":"l","type":"quantitative","title":"Regret"},"y2":{"field":"h"}}},
{"transform":[{"filter":"datum.s!=='init'"}],"mark":{"type":"line","interpolate":"step-after","strokeWidth":2.2,"clip":true},"encoding":{"y":{"field":"v","type":"quantitative","title":"Regret"},"color":{"field":"s","type":"nominal","title":null,"scale":{"domain":["BFS","Local","DFS","BayesOptG_Matern","BayesOptG_Diff","Random","BayesOptG_SumInverse","BayesOptG_Poly","BayesOptG_Diff_ARD"],"range":["#9467bd","#2ca02c","#d62728","#bcbd22","#7f7f7f","#ff7f0e","#e377c2","#1f77b4","#8c564b"]}}}},
{"transform":[{"filter":"datum.s==='init'"}],"mark":{"type":"line","strokeWidth":2.2,"color":"#7f7f7f","clip":true},"encoding":{"y":{"field":"v","type":"quantitative","title":"Regret"}}}
]},
{"data":{"name":"b"},"width":270,"height":130,"title":"(b) Betweenness; m = 3",
"encoding":{"x":{"field":"x","type":"quantitative","scale":{"domain":[0,100]},"axis":{"values":[0,25,50,75,100],"title":null}}},
"layer":[
{"transform":[{"filter":"datum.s!=='init'"}],"mark":{"type":"area","interpolate":"step-after","fillOpacity":0.1,"clip":true},"encoding":{"y":{"field":"l","type":"quantitative","scale":{"domain":[-0.0055,0.192]},"axis":{"values":[0,0.05,0.1,0.15],"format":".2f","title":null}},"y2":{"field":"h"},"color":{"field":"s","type":"nominal","title":null,"scale":{"domain":["BFS","Local","DFS","BayesOptG_Matern","BayesOptG_Diff","Random","BayesOptG_SumInverse","BayesOptG_Poly","BayesOptG_Diff_ARD"],"range":["#9467bd","#2ca02c","#d62728","#bcbd22","#7f7f7f","#ff7f0e","#e377c2","#1f77b4","#8c564b"]}}}},
{"transform":[{"filter":"datum.s==='init'"}],"mark":{"type":"area","opacity":0.8,"color":"#c6b09b","clip":true},"encoding":{"y":{"field":"l","type":"quantitative","title":null},"y2":{"field":"h"}}},
{"transform":[{"filter":"datum.s!=='init'"}],"mark":{"type":"line","interpolate":"step-after","strokeWidth":2.2,"clip":true},"encoding":{"y":{"field":"v","type":"quantitative","title":null},"color":{"field":"s","type":"nominal","title":null,"scale":{"domain":["BFS","Local","DFS","BayesOptG_Matern","BayesOptG_Diff","Random","BayesOptG_SumInverse","BayesOptG_Poly","BayesOptG_Diff_ARD"],"range":["#9467bd","#2ca02c","#d62728","#bcbd22","#7f7f7f","#ff7f0e","#e377c2","#1f77b4","#8c564b"]}}}},
{"transform":[{"filter":"datum.s==='init'"}],"mark":{"type":"line","strokeWidth":2.2,"color":"#7f7f7f","clip":true},"encoding":{"y":{"field":"v","type":"quantitative","title":null}}}
]},
{"data":{"name":"c"},"width":270,"height":130,"title":"(c) Betweenness; m = 4",
"encoding":{"x":{"field":"x","type":"quantitative","scale":{"domain":[0,100]},"axis":{"values":[0,25,50,75,100],"title":null}}},
"layer":[
{"transform":[{"filter":"datum.s!=='init'"}],"mark":{"type":"area","interpolate":"step-after","fillOpacity":0.1,"clip":true},"encoding":{"y":{"field":"l","type":"quantitative","scale":{"domain":[-0.0037,0.1293]},"axis":{"values":[0,0.05,0.1],"format":".2f","title":null}},"y2":{"field":"h"},"color":{"field":"s","type":"nominal","title":null,"scale":{"domain":["BFS","Local","DFS","BayesOptG_Matern","BayesOptG_Diff","Random","BayesOptG_SumInverse","BayesOptG_Poly","BayesOptG_Diff_ARD"],"range":["#9467bd","#2ca02c","#d62728","#bcbd22","#7f7f7f","#ff7f0e","#e377c2","#1f77b4","#8c564b"]}}}},
{"transform":[{"filter":"datum.s==='init'"}],"mark":{"type":"area","opacity":0.8,"color":"#c6b09b","clip":true},"encoding":{"y":{"field":"l","type":"quantitative","title":null},"y2":{"field":"h"}}},
{"transform":[{"filter":"datum.s!=='init'"}],"mark":{"type":"line","interpolate":"step-after","strokeWidth":2.2,"clip":true},"encoding":{"y":{"field":"v","type":"quantitative","title":null},"color":{"field":"s","type":"nominal","title":null,"scale":{"domain":["BFS","Local","DFS","BayesOptG_Matern","BayesOptG_Diff","Random","BayesOptG_SumInverse","BayesOptG_Poly","BayesOptG_Diff_ARD"],"range":["#9467bd","#2ca02c","#d62728","#bcbd22","#7f7f7f","#ff7f0e","#e377c2","#1f77b4","#8c564b"]}}}},
{"transform":[{"filter":"datum.s==='init'"}],"mark":{"type":"line","strokeWidth":2.2,"color":"#7f7f7f","clip":true},"encoding":{"y":{"field":"v","type":"quantitative","title":null}}}
]}
],"spacing":60,"bounds":"flush"},
{"hconcat":[
{"data":{"name":"d"},"width":270,"height":130,"title":"(d) Eigenvector; m = 2",
"encoding":{"x":{"field":"x","type":"quantitative","scale":{"domain":[0,100]},"axis":{"values":[0,25,50,75,100],"title":"#Iters"}}},
"layer":[
{"transform":[{"filter":"datum.s!=='init'"}],"mark":{"type":"area","interpolate":"step-after","fillOpacity":0.1,"clip":true},"encoding":{"y":{"field":"l","type":"quantitative","scale":{"domain":[-0.02,0.471]},"axis":{"values":[0,0.2,0.4],"format":".1f","title":"Regret"}},"y2":{"field":"h"},"color":{"field":"s","type":"nominal","title":null,"scale":{"domain":["BFS","Local","DFS","BayesOptG_Matern","BayesOptG_Diff","Random","BayesOptG_SumInverse","BayesOptG_Poly","BayesOptG_Diff_ARD"],"range":["#9467bd","#2ca02c","#d62728","#bcbd22","#7f7f7f","#ff7f0e","#e377c2","#1f77b4","#8c564b"]}}}},
{"transform":[{"filter":"datum.s==='init'"}],"mark":{"type":"area","opacity":0.8,"color":"#c6b09b","clip":true},"encoding":{"y":{"field":"l","type":"quantitative","title":"Regret"},"y2":{"field":"h"}}},
{"transform":[{"filter":"datum.s!=='init'"}],"mark":{"type":"line","interpolate":"step-after","strokeWidth":2.2,"clip":true},"encoding":{"y":{"field":"v","type":"quantitative","title":"Regret"},"color":{"field":"s","type":"nominal","title":null,"scale":{"domain":["BFS","Local","DFS","BayesOptG_Matern","BayesOptG_Diff","Random","BayesOptG_SumInverse","BayesOptG_Poly","BayesOptG_Diff_ARD"],"range":["#9467bd","#2ca02c","#d62728","#bcbd22","#7f7f7f","#ff7f0e","#e377c2","#1f77b4","#8c564b"]}}}},
{"transform":[{"filter":"datum.s==='init'"}],"mark":{"type":"line","strokeWidth":2.2,"color":"#7f7f7f","clip":true},"encoding":{"y":{"field":"v","type":"quantitative","title":"Regret"}}}
]},
{"data":{"name":"e"},"width":270,"height":130,"title":"(e) Eigenvector; m = 3",
"encoding":{"x":{"field":"x","type":"quantitative","scale":{"domain":[0,100]},"axis":{"values":[0,25,50,75,100],"title":"#Iters"}}},
"layer":[
{"transform":[{"filter":"datum.s!=='init'"}],"mark":{"type":"area","interpolate":"step-after","fillOpacity":0.1,"clip":true},"encoding":{"y":{"field":"l","type":"quantitative","scale":{"domain":[-0.016,0.3845]},"axis":{"values":[0,0.2],"format":".1f","title":null}},"y2":{"field":"h"},"color":{"field":"s","type":"nominal","title":null,"scale":{"domain":["BFS","Local","DFS","BayesOptG_Matern","BayesOptG_Diff","Random","BayesOptG_SumInverse","BayesOptG_Poly","BayesOptG_Diff_ARD"],"range":["#9467bd","#2ca02c","#d62728","#bcbd22","#7f7f7f","#ff7f0e","#e377c2","#1f77b4","#8c564b"]}}}},
{"transform":[{"filter":"datum.s==='init'"}],"mark":{"type":"area","opacity":0.8,"color":"#c6b09b","clip":true},"encoding":{"y":{"field":"l","type":"quantitative","title":null},"y2":{"field":"h"}}},
{"transform":[{"filter":"datum.s!=='init'"}],"mark":{"type":"line","interpolate":"step-after","strokeWidth":2.2,"clip":true},"encoding":{"y":{"field":"v","type":"quantitative","title":null},"color":{"field":"s","type":"nominal","title":null,"scale":{"domain":["BFS","Local","DFS","BayesOptG_Matern","BayesOptG_Diff","Random","BayesOptG_SumInverse","BayesOptG_Poly","BayesOptG_Diff_ARD"],"range":["#9467bd","#2ca02c","#d62728","#bcbd22","#7f7f7f","#ff7f0e","#e377c2","#1f77b4","#8c564b"]}}}},
{"transform":[{"filter":"datum.s==='init'"}],"mark":{"type":"line","strokeWidth":2.2,"color":"#7f7f7f","clip":true},"encoding":{"y":{"field":"v","type":"quantitative","title":null}}}
]},
{"data":{"name":"f"},"width":270,"height":130,"title":"(f) Eigenvector; m = 4",
"encoding":{"x":{"field":"x","type":"quantitative","scale":{"domain":[0,100]},"axis":{"values":[0,25,50,75,100],"title":"#Iters"}}},
"layer":[
{"transform":[{"filter":"datum.s!=='init'"}],"mark":{"type":"area","interpolate":"step-after","fillOpacity":0.1,"clip":true},"encoding":{"y":{"field":"l","type":"quantitative","scale":{"domain":[-0.0127,0.3014]},"axis":{"values":[0,0.1,0.2,0.3],"format":".1f","title":null}},"y2":{"field":"h"},"color":{"field":"s","type":"nominal","title":null,"scale":{"domain":["BFS","Local","DFS","BayesOptG_Matern","BayesOptG_Diff","Random","BayesOptG_SumInverse","BayesOptG_Poly","BayesOptG_Diff_ARD"],"range":["#9467bd","#2ca02c","#d62728","#bcbd22","#7f7f7f","#ff7f0e","#e377c2","#1f77b4","#8c564b"]}}}},
{"transform":[{"filter":"datum.s==='init'"}],"mark":{"type":"area","opacity":0.8,"color":"#c6b09b","clip":true},"encoding":{"y":{"field":"l","type":"quantitative","title":null},"y2":{"field":"h"}}},
{"transform":[{"filter":"datum.s!=='init'"}],"mark":{"type":"line","interpolate":"step-after","strokeWidth":2.2,"clip":true},"encoding":{"y":{"field":"v","type":"quantitative","title":null},"color":{"field":"s","type":"nominal","title":null,"scale":{"domain":["BFS","Local","DFS","BayesOptG_Matern","BayesOptG_Diff","Random","BayesOptG_SumInverse","BayesOptG_Poly","BayesOptG_Diff_ARD"],"range":["#9467bd","#2ca02c","#d62728","#bcbd22","#7f7f7f","#ff7f0e","#e377c2","#1f77b4","#8c564b"]}}}},
{"transform":[{"filter":"datum.s==='init'"}],"mark":{"type":"line","strokeWidth":2.2,"color":"#7f7f7f","clip":true},"encoding":{"y":{"field":"v","type":"quantitative","title":null}}}
]}
],"spacing":60,"bounds":"flush"}
],
"spacing":-3,
"resolve":{"scale":{"color":"shared"},"legend":{"color":"shared"}}
}
